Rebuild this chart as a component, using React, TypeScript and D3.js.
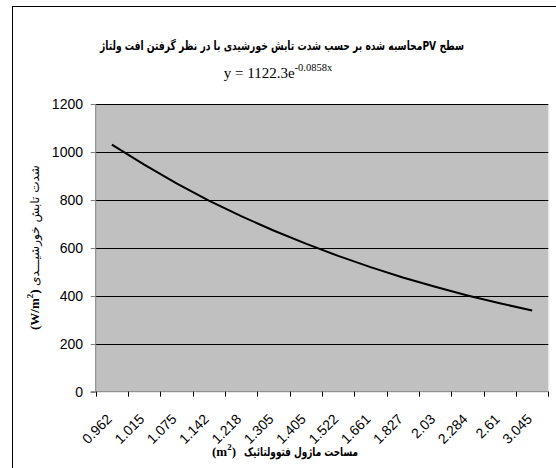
import React from 'react';
import * as d3 from 'd3';

// module area (m2) on the category axis, irradiance (W/m2)
const areas = ['0.962', '1.015', '1.075', '1.142', '1.218', '1.305', '1.405', '1.522', '1.661', '1.827', '2.03', '2.284', '2.61', '3.045'];
const irradiance = [1032, 948, 870, 798, 733, 673, 618, 567, 520, 477, 438, 402, 369, 339];
const yTicks = [0, 200, 400, 600, 800, 1000, 1200];

const title = 'سطح PVمحاسبه شده بر حسب شدت تابش خورشیدی با در نظر گرفتن افت ولتاژ';
const yTitle = 'شدت تابش خورشیـــدی';
const xTitle = 'مساحت ماژول فتوولتائیک';

const W = 556;
const H = 468;
const plot = { left: 95.7, right: 548.3, top: 104.3, bottom: 391.7 };
const sans = 'Liberation Sans, Arial, DejaVu Sans, sans-serif';
const farsi = 'DejaVu Sans Condensed, DejaVu Sans, sans-serif';
const serif = 'Liberation Serif, Times New Roman, serif';

// unit label like "(m²)" drawn as its own text
const Unit = ({ base, ...rest }) => (
  <text fontFamily={serif} fontSize={13} fontWeight="bold" {...rest}>
    {'(' + base}
    <tspan fontSize={9} dy={-6}>2</tspan>
    <tspan dy={6}>)</tspan>
  </text>
);

const App = () => {
  const x = d3.scaleBand().domain(areas).range([plot.left, plot.right]).padding(0);
  const y = d3.scaleLinear().domain([0, 1200]).range([plot.bottom, plot.top]);
  const cx = d => x(d) + x.bandwidth() / 2;

  const line = d3
    .line()
    .x((d, i) => cx(areas[i]))
    .y(d => y(d));

  const xEdges = areas.map(d => x(d)).concat([plot.right]);

  return (
    <svg width={W} height={H} style={{ position: 'absolute', left: 0, top: 0, background: '#fff' }}>
      <rect x={12.5} y={6.5} width={W + 10} height={H + 10} fill="#fff" stroke="#000" />

      <text
        x={282}
        y={50}
        textAnchor="middle"
        direction="rtl"
        fontFamily={farsi}
        fontWeight="bold"
        fontSize={12.5}
        textLength={364}
        lengthAdjust="spacingAndGlyphs"
      >
        {title}
      </text>
      <text x={278} y={78} textAnchor="middle" fontFamily={serif} fontSize={15}>
        y = 1122.3e
        <tspan dy={-7} fontSize={10.5}>-0.0858x</tspan>
      </text>

      <rect x={plot.left} y={plot.top} width={plot.right - plot.left} height={plot.bottom - plot.top} fill="#c0c0c0" />
      <line x1={plot.right + 0.5} x2={plot.right + 0.5} y1={plot.top} y2={plot.bottom} stroke="#e6e6e6" />

      {yTicks.slice(1).map(t => (
        <line key={t} x1={plot.left} x2={plot.right} y1={Math.round(y(t)) + 0.5} y2={Math.round(y(t)) + 0.5} stroke="#000" />
      ))}

      <path d={line(irradiance)} fill="none" stroke="#000" strokeWidth={2} />

      <line x1={plot.left} x2={plot.left} y1={plot.top} y2={plot.bottom} stroke="#808080" />
      <line x1={plot.left - 5} x2={plot.right} y1={plot.bottom} y2={plot.bottom} stroke="#808080" />
      {yTicks.map(t => (
        <g key={t}>
          <line x1={plot.left - 5} x2={plot.left} y1={Math.round(y(t)) + 0.5} y2={Math.round(y(t)) + 0.5} stroke="#808080" />
          <text x={83} y={y(t)} dy="0.36em" textAnchor="end" fontFamily={sans} fontSize={14}>
            {t}
          </text>
        </g>
      ))}

      {xEdges.map((e, i) => (
        <line key={i} x1={Math.round(e) + 0.5} x2={Math.round(e) + 0.5} y1={plot.bottom} y2={plot.bottom + 5} stroke="#000" />
      ))}
      {areas.map(d => (
        <text
          key={d}
          transform={`translate(${cx(d) + 1},${420}) rotate(-45)`}
          textAnchor="end"
          fontFamily={sans}
          fontSize={14}
        >
          {d}
        </text>
      ))}

      <Unit base="m" x={212} y={456} />
      <text
        x={358}
        y={456}
        textAnchor="end"
        fontFamily={farsi}
        fontSize={12}
        fontWeight="bold"
        textLength={114}
        lengthAdjust="spacingAndGlyphs"
      >
        {xTitle}
      </text>

      <g transform="translate(39,0) rotate(-90)">
        <Unit base="W/m" x={-330} y={0} />
        <text
          x={-165}
          y={0}
          textAnchor="end"
          fontFamily={farsi}
          fontSize={12}
          textLength={121}
          lengthAdjust="spacingAndGlyphs"
        >
          {yTitle}
        </text>
      </g>
    </svg>
  );
};

export default App;
